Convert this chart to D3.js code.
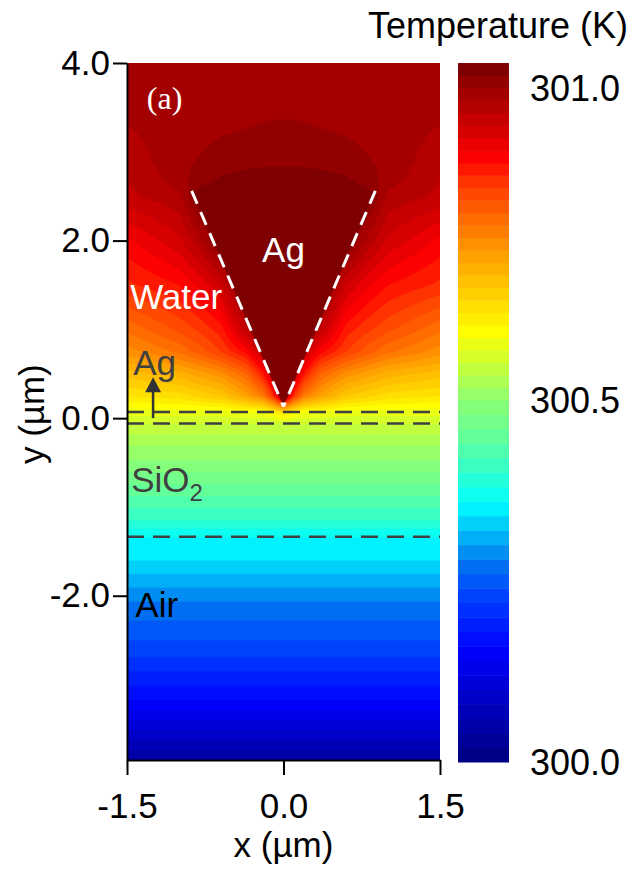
<!DOCTYPE html>
<html>
<head>
<meta charset="utf-8">
<script src="https://cdn.jsdelivr.net/npm/d3@7"></script>
<style>
  body { margin: 0; background: #fff; }
  svg { display: block; font-family: "Liberation Sans", Arial, sans-serif; }
</style>
</head>
<body>
<svg id="chart" width="632" height="881"></svg>
<script>
const xTicks = [-1.5, 0.0, 1.5];
const yTicks = [4.0, 2.0, 0.0, -2.0];
const tempTicks = [300.0, 300.5, 301.0];

// temperature map (K); columns in µm
const gridX = [-1.5, -1.0, -0.8, -0.6, -0.35, -0.2, -0.1, 0, 0.1, 0.2, 0.35, 0.6, 0.8, 1.0, 1.5];

// water side, rows top to bottom (µm)
const waterY = [4.0, 3.5, 3.3, 3.1, 2.9, 2.7, 2.5, 2.0, 1.5, 1.0, 0.75, 0.5, 0.25, 0.07];
const waterT = [
  [300.99, 300.99, 300.99, 300.99, 300.99, 300.99, 300.99, 300.99, 300.99, 300.99, 300.99, 300.99, 300.99, 300.99, 300.99],
  [300.985, 300.99, 300.99, 300.99, 300.992, 300.994, 300.995, 300.995, 300.995, 300.994, 300.992, 300.99, 300.99, 300.99, 300.985],
  [300.98, 300.988, 300.99, 300.994, 300.998, 301.001, 301.002, 301.002, 301.002, 301.001, 300.998, 300.994, 300.99, 300.988, 300.98],
  [300.975, 300.99, 300.996, 301.003, 301.009, 301.01, 301.01, 301.01, 301.01, 301.01, 301.009, 301.003, 300.996, 300.99, 300.975],
  [300.968, 300.993, 301.002, 301.013, 301.016, 301.017, 301.017, 301.017, 301.017, 301.017, 301.016, 301.013, 301.002, 300.993, 300.968],
  [300.96, 300.99, 301.012, 301.021, 301.024, 301.025, 301.025, 301.025, 301.025, 301.025, 301.024, 301.021, 301.012, 300.99, 300.96],
  [300.955, 300.975, 301.03, 301.03, 301.03, 301.03, 301.03, 301.03, 301.03, 301.03, 301.03, 301.03, 301.03, 300.975, 300.955],
  [300.895, 300.935, 300.975, 301.03, 301.03, 301.03, 301.03, 301.03, 301.03, 301.03, 301.03, 301.03, 300.975, 300.935, 300.895],
  [300.855, 300.88, 300.905, 300.94, 301.03, 301.03, 301.03, 301.03, 301.03, 301.03, 301.03, 300.94, 300.905, 300.88, 300.855],
  [300.785, 300.825, 300.845, 300.87, 300.957, 301.03, 301.03, 301.03, 301.03, 301.03, 300.957, 300.87, 300.845, 300.825, 300.785],
  [300.75, 300.785, 300.81, 300.84, 300.888, 300.95, 301.03, 301.03, 301.03, 300.95, 300.888, 300.84, 300.81, 300.785, 300.75],
  [300.69, 300.71, 300.73, 300.75, 300.80, 300.87, 300.95, 301.03, 300.95, 300.87, 300.80, 300.75, 300.73, 300.71, 300.69],
  [300.64, 300.65, 300.665, 300.68, 300.73, 300.77, 300.85, 301.0, 300.85, 300.77, 300.73, 300.68, 300.665, 300.65, 300.64],
  [300.59, 300.59, 300.59, 300.59, 300.60, 300.60, 300.62, 300.65, 300.62, 300.60, 300.60, 300.59, 300.59, 300.59, 300.59]
];

// Ag film, SiO2 and air: uniform across x
const substrateY = [-0.06, -0.3, -0.47, -0.81, -1.15, -1.335, -1.6, -2.06, -2.61, -3.17, -3.85];
const substrateT = [300.56, 300.52, 300.50, 300.45, 300.40, 300.36, 300.34, 300.28, 300.23, 300.16, 300.04];

// Ag tip outline and layer interfaces (µm)
const tipX = [-0.88, 0.0, 0.88];
const tipY = [2.56, 0.13, 2.56];
const layerY = [0.07, -0.06, -1.335];

// colour bar stops
const stopT = [300.0, 300.155, 300.228, 300.272, 300.358, 300.441, 300.5, 300.609, 300.679, 300.732,
               300.785, 300.84, 300.888, 300.92, 300.957, 300.989, 301.021, 301.042];
const stopC = ["#00007f", "#0000ff", "#0040ff", "#0070f0", "#00ffff", "#5cffa0", "#8cff73", "#ffff00", "#ffc800", "#ffa000",
               "#ff7000", "#ff4000", "#ff0000", "#e00000", "#c00000", "#a50000", "#8a0000", "#700000"];

const svg = d3.select("#chart");
const x = d3.scaleLinear().domain([-1.5, 1.5]).range([127, 440]);
const y = d3.scaleLinear().domain([-3.85, 4.0]).range([760, 63]);
const cbarY = d3.scaleLinear().domain([300.0, 300.5, 301.0]).range([762, 400, 88]);
const color = d3.scaleLinear().domain(stopT).range(stopC).clamp(true);

const bands = d3.range(0, 53).map(i => 300 + i * 0.02);

// full grid: water rows then substrate rows
const rowsY = waterY.concat(substrateY);
const rowsT = waterT.concat(substrateT.map(t => gridX.map(() => t)));
const yAsc = rowsY.slice().reverse();
const tAsc = rowsT.slice().reverse();

function field(px, py) {
  const i = Math.max(0, Math.min(gridX.length - 2, d3.bisectRight(gridX, px) - 1));
  const j = Math.max(0, Math.min(yAsc.length - 2, d3.bisectRight(yAsc, py) - 1));
  const u = Math.max(0, Math.min(1, (px - gridX[i]) / (gridX[i + 1] - gridX[i])));
  const v = Math.max(0, Math.min(1, (py - yAsc[j]) / (yAsc[j + 1] - yAsc[j])));
  const a = tAsc[j][i], b = tAsc[j][i + 1], c = tAsc[j + 1][i], d = tAsc[j + 1][i + 1];
  return (a * (1 - u) + b * u) * (1 - v) + (c * (1 - u) + d * u) * v;
}

const cell = 2;
const x0 = x.range()[0], y0 = y.range()[1];
const nx = Math.ceil((x.range()[1] - x0) / cell);
const ny = Math.ceil((y.range()[0] - y0) / cell);
const values = new Array(nx * ny);
for (let r = 0; r < ny; r++) {
  for (let c = 0; c < nx; c++) {
    values[r * nx + c] = field(x.invert(x0 + (c + 0.5) * cell), y.invert(y0 + (r + 0.5) * cell));
  }
}

svg.append("clipPath").attr("id", "plot-clip")
  .append("rect")
  .attr("x", x0).attr("y", y0)
  .attr("width", x.range()[1] - x0).attr("height", y.range()[0] - y0);

const map = svg.append("g").attr("clip-path", "url(#plot-clip)");
const contours = d3.contours().size([nx, ny]).thresholds(bands)(values);
const geo = d3.geoPath(d3.geoIdentity().scale(cell).translate([x0, y0]));

map.selectAll("path.band")
  .data(contours)
  .join("path")
  .attr("class", "band")
  .attr("d", geo)
  .attr("fill", d => color(d.value + 0.01))
  .attr("stroke", d => color(d.value + 0.01))
  .attr("stroke-width", 0.5);

// Ag tip (isothermal)
map.append("path")
  .attr("d", d3.line()(tipX.map((v, i) => [x(v), y(tipY[i])])) + "Z")
  .attr("fill", color(301.03));

// layer interfaces
map.selectAll("line.layer")
  .data(layerY)
  .join("line")
  .attr("class", "layer")
  .attr("x1", x0).attr("x2", x.range()[1])
  .attr("y1", d => y(d)).attr("y2", d => y(d))
  .attr("stroke", "#404040")
  .attr("stroke-width", 2.5)
  .attr("stroke-dasharray", "17,9");

// tip outline
map.selectAll("line.tip")
  .data([0, 2])
  .join("line")
  .attr("class", "tip")
  .attr("x1", i => x(tipX[i])).attr("y1", i => y(tipY[i]))
  .attr("x2", x(tipX[1])).attr("y2", y(tipY[1]))
  .attr("stroke", "#fff")
  .attr("stroke-width", 3)
  .attr("stroke-dasharray", "14,9");

// labels in the map
const labels = [
  { text: "(a)", x: -1.31, y: 3.48, fill: "#fff", size: 32, font: "Liberation Serif, Times New Roman, serif", anchor: "start" },
  { text: "Ag", x: 0.0, y: 1.76, fill: "#fff", size: 35, anchor: "middle" },
  { text: "Water", x: -1.47, y: 1.23, fill: "#fff", size: 35, anchor: "start" },
  { text: "Ag", x: -1.44, y: 0.49, fill: "#404040", size: 35, anchor: "start" },
  { text: "Air", x: -1.42, y: -2.24, fill: "#000", size: 35, anchor: "start" }
];
svg.append("g").selectAll("text")
  .data(labels)
  .join("text")
  .attr("x", d => x(d.x)).attr("y", d => y(d.y))
  .attr("fill", d => d.fill)
  .attr("font-size", d => d.size)
  .attr("font-family", d => d.font || null)
  .attr("text-anchor", d => d.anchor)
  .text(d => d.text);

const sio2 = svg.append("text")
  .attr("x", x(-1.46)).attr("y", y(-0.83))
  .attr("fill", "#404040").attr("font-size", 35)
  .text("SiO");
sio2.append("tspan").attr("font-size", 24).attr("dy", 9).text("2");

// arrow pointing at the Ag film
const arrowX = -1.25, arrowY = [0.0, 0.46];
svg.append("line")
  .attr("x1", x(arrowX)).attr("x2", x(arrowX))
  .attr("y1", y(arrowY[0])).attr("y2", y(arrowY[1]) + 12)
  .attr("stroke", "#333").attr("stroke-width", 2.5);
svg.append("path")
  .attr("d", `M${x(arrowX)},${y(arrowY[1])}l8,15h-16z`)
  .attr("fill", "#333");

// axes
const fmt = d => d.toFixed(1);
const gx = svg.append("g")
  .attr("transform", `translate(0,${y.range()[0]})`)
  .call(d3.axisBottom(x).tickValues(xTicks).tickFormat(fmt).tickSize(15).tickSizeOuter(0).tickPadding(18));
const gy = svg.append("g")
  .attr("transform", `translate(${x0},0)`)
  .call(d3.axisLeft(y).tickValues(yTicks).tickFormat(fmt).tickSize(14).tickSizeOuter(0).tickPadding(3));
[gx, gy].forEach(g => {
  g.attr("font-size", 35).attr("font-family", "Liberation Sans, Arial, sans-serif");
  g.selectAll("path, line").attr("stroke", "#000").attr("stroke-width", 2);
  g.selectAll("text").attr("fill", "#000");
});

svg.append("text")
  .attr("x", (x.range()[0] + x.range()[1]) / 2).attr("y", 857)
  .attr("text-anchor", "middle").attr("font-size", 35)
  .text("x (µm)");
svg.append("text")
  .attr("transform", `translate(44,${y(0) - 4}) rotate(-90)`)
  .attr("text-anchor", "middle").attr("font-size", 35)
  .text("y (µm)");

// colour bar
const cbar = svg.append("g");
cbar.selectAll("rect")
  .data(bands.slice(0, -1))
  .join("rect")
  .attr("x", 458).attr("width", 51)
  .attr("y", d => cbarY(d + 0.02))
  .attr("height", d => cbarY(d) - cbarY(d + 0.02) + 0.5)
  .attr("fill", d => color(d + 0.01));
cbar.selectAll("text")
  .data(tempTicks)
  .join("text")
  .attr("x", 530).attr("y", d => cbarY(d))
  .attr("dy", "0.35em")
  .attr("font-size", 36)
  .text(fmt);
svg.append("text")
  .attr("x", 628).attr("y", 38)
  .attr("text-anchor", "end").attr("font-size", 36)
  .text("Temperature (K)");
</script>
</body>
</html>
